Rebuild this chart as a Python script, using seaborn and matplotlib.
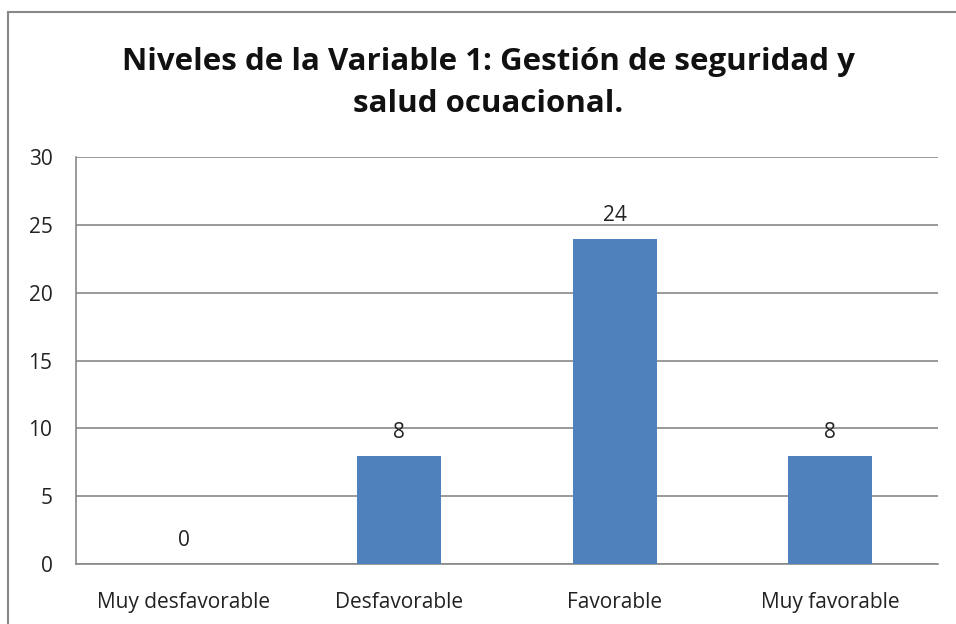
import pandas as pd
import matplotlib.pyplot as plt
import seaborn as sns
from matplotlib.patches import Rectangle

# Data
categorias = ['Muy desfavorable', 'Desfavorable', 'Favorable', 'Muy favorable']
frecuencias = [0, 8, 24, 8]
titulo = 'Niveles de la Variable 1: Gestión de seguridad y\nsalud ocuacional.'

df = pd.DataFrame({'Nivel': categorias, 'Frecuencia': frecuencias})

sns.set_style('white')
plt.rcParams['font.family'] = ['Open Sans', 'DejaVu Sans']

fig = plt.figure(figsize=(9.56, 6.24), dpi=100)
ax = fig.add_axes([0.0795, 0.0962, 0.9015, 0.6518])

sns.barplot(data=df, x='Nivel', y='Frecuencia', color='#4F81BD', width=0.39,
            saturation=1, linewidth=0, ax=ax, zorder=3)

# Axis styling
ax.set_ylim(0, 30)
ax.set_yticks(range(0, 31, 5))
ax.set_xlabel('')
ax.set_ylabel('')
ax.yaxis.grid(True, color='#888888', linewidth=1.2, zorder=0)
ax.set_axisbelow(True)
for side in ['top', 'right']:
    ax.spines[side].set_visible(False)
for side in ['left', 'bottom']:
    ax.spines[side].set_color('#888888')
    ax.spines[side].set_linewidth(1.2)
ax.tick_params(axis='both', length=0, labelsize=15, colors='#222222')
ax.tick_params(axis='x', pad=20)
ax.tick_params(axis='y', pad=17)

# Data labels
for container in ax.containers:
    ax.bar_label(container, fontsize=15, padding=9, color='#222222')

# Title
fig.text(0.511, 0.867, titulo, ha='center', va='center', fontsize=22.5,
         fontweight='bold', linespacing=1.55, color='#111111')

# Outer chart border
fig.patches.append(Rectangle((0.0085, -0.01), 1.0, 0.9915, transform=fig.transFigure,
                             fill=False, edgecolor='#888888', linewidth=1.5))

plt.savefig('out.png', dpi=100)
